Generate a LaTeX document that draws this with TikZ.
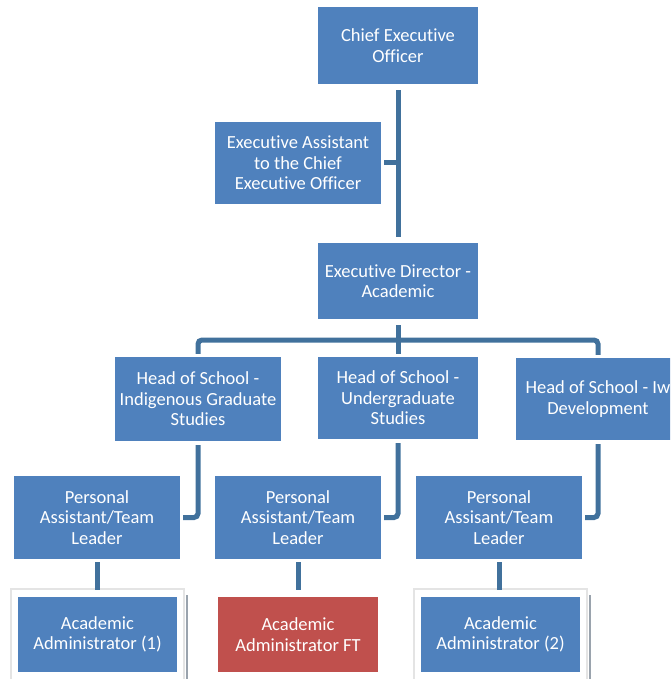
\documentclass[tikz,border=0pt]{standalone}
\usepackage{fontspec}
\setmainfont{Carlito}[Ligatures={NoCommon}]
\definecolor{boxblue}{HTML}{4F81BD}
\definecolor{boxred}{HTML}{C0504D}
\definecolor{connblue}{HTML}{41719C}
\definecolor{framegray}{HTML}{E4E4E4}
\definecolor{shadowgray}{HTML}{9AA3AD}
\tikzset{
  box/.style={fill=boxblue, draw=none, text=white, align=center, inner sep=0pt,
    font=\fontsize{18.5}{20.5}\selectfont},
  redbox/.style={box, fill=boxred},
  conn/.style={draw=connblue, line width=5pt, rounded corners=4pt},
  frameline/.style={draw=framegray, line width=1.2pt},
  shadowline/.style={draw=shadowgray, line width=1.6pt}
}
\begin{document}
\begin{tikzpicture}[x=1pt,y=1pt]
\useasboundingbox (0,0) rectangle (670,-679);
\clip (0,0) rectangle (670,-679);
% boxes
\node[box, minimum width=160pt, minimum height=77pt] (ceo) at (398,-45.5) {Chief Executive\\Officer};
\node[box, minimum width=166pt, minimum height=82pt] (ea) at (298,-163) {Executive Assistant\\to the Chief\\Executive Officer};
\node[box, minimum width=160pt, minimum height=76pt] (ed) at (398,-281) {Executive Director -\\Academic};
\node[box, minimum width=166pt, minimum height=84pt] (h1) at (198,-399) {Head of School -\\Indigenous Graduate\\Studies};
\node[box, minimum width=160pt, minimum height=82pt] (h2) at (398,-398) {Head of School -\\Undergraduate\\Studies};
\node[box, minimum width=164pt, minimum height=82pt] (h3) at (598,-399) {Head of School - Iw\\Development};
\node[box, minimum width=166pt, minimum height=83pt] (pa1) at (97,-517.5) {Personal\\Assistant/Team\\Leader};
\node[box, minimum width=166pt, minimum height=83pt] (pa2) at (298,-517.5) {Personal\\Assistant/Team\\Leader};
\node[box, minimum width=166pt, minimum height=83pt] (pa3) at (499,-517.5) {Personal\\Assisant/Team\\Leader};
% admin frames
\draw[frameline] (11,-690) -- (11,-589) -- (184,-589) -- (184,-690);
\draw[shadowline] (187,-595) -- (187,-690);
\draw[frameline] (414,-690) -- (414,-589) -- (587,-589) -- (587,-690);
\draw[shadowline] (590,-595) -- (590,-690);
\node[box, minimum width=159pt, minimum height=75pt] (ad1) at (97.5,-634.5) {Academic\\Administrator (1)};
\node[redbox, minimum width=160pt, minimum height=75pt] (ad2) at (298,-634.5) {Academic\\Administrator FT};
\node[box, minimum width=159pt, minimum height=75pt] (ad3) at (500.5,-634.5) {Academic\\Administrator (2)};
% connectors
\coordinate (bar) at (398,-340);
\draw[conn] ([yshift=-6pt]ceo.south) -- ([yshift=6pt]ed.north);
\draw[conn] ([xshift=3pt]ea.east) -- (ea.east -| ceo.south);
\draw[conn] ([yshift=3pt]h1.north) |- (bar) -| ([yshift=3pt]h3.north);
\draw[conn] ([yshift=-6pt]ed.south) -- ([yshift=3pt]h2.north);
\draw[conn] ([yshift=-4pt]h1.south) |- ([xshift=3pt]pa1.east);
\draw[conn] ([yshift=-4pt]h2.south) |- ([xshift=3pt]pa2.east);
\draw[conn] ([yshift=-4pt]h3.south) |- ([xshift=3pt]pa3.east);
\draw[conn] ([yshift=-3pt]pa1.south) -- ([yshift=7pt]ad1.north -| pa1.south);
\draw[conn] ([yshift=-3pt]pa2.south) -- ([yshift=7pt]ad2.north -| pa2.south);
\draw[conn] ([yshift=-3pt]pa3.south) -- ([yshift=7pt]ad3.north -| pa3.south);
\end{tikzpicture}
\end{document}
